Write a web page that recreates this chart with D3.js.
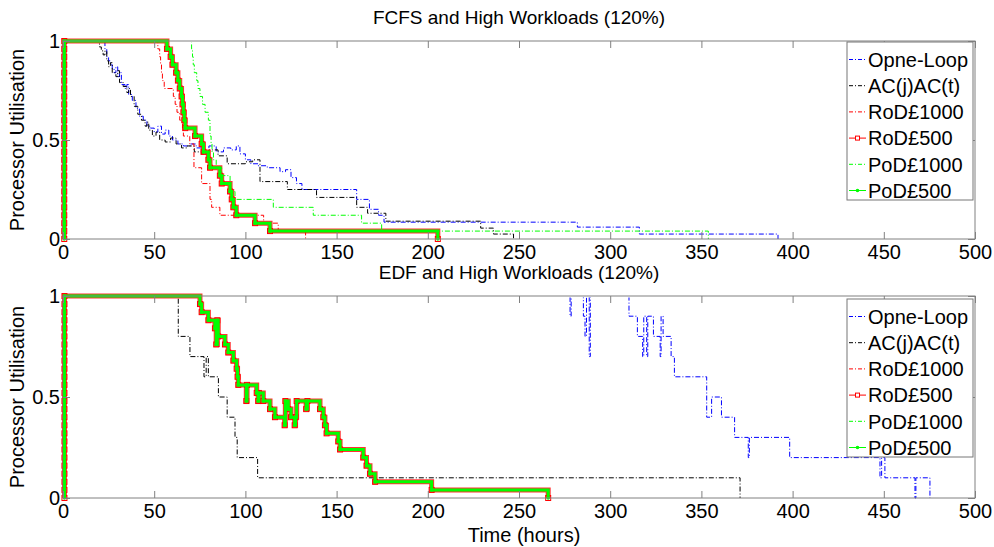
<!DOCTYPE html>
<html>
<head>
<meta charset="utf-8">
<script src="https://cdn.jsdelivr.net/npm/d3@7/dist/d3.min.js"></script>
<style>
  body { margin: 0; background: #fff; }
  text { font-family: "Liberation Sans", Arial, sans-serif; fill: #000; }
</style>
</head>
<body>
<script>
// ---- data ----
const xTicks = [0, 50, 100, 150, 200, 250, 300, 350, 400, 450, 500];
const yTicks = [0, 0.5, 1];
const seriesNames = ["Opne-Loop", "AC(j)AC(t)", "RoD£1000", "RoD£500", "PoD£1000", "PoD£500"];

// utilisation levels climbed right at t≈0 (markers on the vertical start)
const rampLevels = [0, 0.04, 0.08, 0.12, 0.16, 0.2, 0.24, 0.28, 0.32, 0.36, 0.4, 0.44, 0.48,
  0.52, 0.56, 0.6, 0.64, 0.68, 0.72, 0.76, 0.8, 0.84, 0.88, 0.92, 0.96, 1];

// FCFS panel  [time, utilisation]
const fcfsOpenLoop = [[0,0],[0.7,1],[23,0.96],[24,0.92],[25,0.9],[26,0.88],[27,0.86],[28,0.84],[29,0.87],
  [30,0.82],[31,0.84],[32,0.78],[34,0.76],[35,0.78],[36,0.73],[38,0.7],[40,0.66],[42,0.62],[44,0.6],
  [46,0.57],[48,0.56],[50,0.54],[52,0.57],[54,0.53],[56,0.55],[58,0.52],[60,0.5],[63,0.48],[66,0.47],
  [70,0.48],[73,0.46],[76,0.44],[80,0.47],[84,0.44],[88,0.46],[92,0.45],[95,0.47],[97,0.43],[100,0.4],
  [103,0.38],[107,0.37],[112,0.36],[119,0.34],[122,0.35],[125,0.31],[128,0.28],[131,0.25],[161,0.2],
  [168,0.15],[173,0.12],[176,0.085],[282,0.06],[316,0.025],[392,0]];
const fcfsAC = [[0,0],[0.7,1],[20,0.97],[21,0.95],[22,0.93],[23,0.95],[24,0.9],[25,0.87],[26,0.89],
  [27,0.84],[29,0.82],[30,0.85],[31,0.79],[33,0.77],[35,0.74],[36,0.76],[37,0.72],[39,0.67],[41,0.63],
  [43,0.6],[45,0.57],[46,0.59],[47,0.55],[49,0.52],[51,0.54],[53,0.5],[56,0.49],[59,0.51],[62,0.48],
  [65,0.46],[68,0.47],[72,0.44],[76,0.43],[80,0.45],[85,0.42],[90,0.38],[100,0.39],[104,0.4],[108,0.29],
  [123,0.25],[139,0.21],[161,0.16],[167,0.13],[177,0.09],[229,0.055],[236,0.025],[247,0]];
const fcfsRoD1000 = [[0,0],[0.7,1],[52,0.96],[53,0.92],[53.5,0.88],[54,0.84],[54.5,0.8],[55.5,0.76],
  [60.5,0.72],[61.5,0.68],[62.5,0.64],[64,0.6],[65.5,0.56],[66,0.52],[69.5,0.48],[71.8,0.36],[76,0.28],
  [80.6,0.2],[81.5,0.16],[86,0.12],[110,0.08],[118,0.04],[133,0]];
const fcfsPoD1000 = [[0,0],[0.7,1],[70.5,0.96],[71,0.92],[71.4,0.88],[72,0.84],[73.3,0.8],[74,0.76],
  [75.1,0.72],[76.5,0.68],[77.9,0.64],[79.7,0.6],[80.6,0.52],[81.2,0.48],[81.7,0.44],[82.5,0.4],
  [84,0.36],[87,0.32],[91.6,0.24],[94.3,0.2],[115.3,0.16],[137.2,0.12],[163.7,0.08],[174.7,0.04],[353.8,0]];
const fcfsRoD500 = [[57,0.96],[59,0.92],[60,0.88],[62,0.84],[63,0.8],[64,0.76],[65,0.72],[65.5,0.68],
  [66,0.64],[66.5,0.6],[67,0.56],[72.4,0.52],[76,0.48],[77,0.44],[79.7,0.4],[80.6,0.36],[86,0.32],
  [87,0.28],[91.6,0.24],[92.5,0.2],[93.4,0.16],[95,0.12],[105.3,0.08],[113.5,0.04],[205.5,0]];
const fcfsPoD500 = fcfsRoD500; // drawn on top of RoD£500, same trace

// EDF panel
const edfOpenLoop = [[0,0],[0.7,1],[278,0.9],[278.6,1],[285.3,0.9],[286.2,0.8],[287,1],[288.5,0.7],
  [289.1,1],[310.3,0.9],[314.9,0.8],[317.8,0.7],[318.4,0.9],[320,0.7],[320.6,0.9],[323.7,0.8],[327.4,0.7],
  [327.9,0.9],[329,0.8],[333.4,0.7],[335.2,0.6],[352.9,0.4],[355.6,0.5],[361,0.4],[368.2,0.3],[375.7,0.2],
  [376.3,0.3],[398.4,0.2],[447.9,0.1],[448.8,0.2],[450.6,0.1],[467.1,0],[467.6,0.1],[475.3,0]];
const edfAC = [[0,0],[0.7,1],[63.2,0.8],[69.6,0.7],[77.3,0.6],[78.5,0.7],[79.7,0.6],[85.2,0.5],
  [90,0.4],[94.3,0.3],[95.5,0.2],[106.7,0.1],[371.2,0]];
const edfRoD500 = [[75.1,0.96],[76,0.92],[79.7,0.88],[83.3,0.84],[84,0.76],[84.6,0.88],[85.1,0.8],
  [88.8,0.76],[90.6,0.72],[93.4,0.68],[95.2,0.64],[95.7,0.6],[96.1,0.56],[100.5,0.48],[100.9,0.56],
  [106.2,0.52],[107,0.48],[107.4,0.52],[109.8,0.48],[113.5,0.44],[116.2,0.4],[121.5,0.36],[121.9,0.48],
  [123.5,0.44],[125,0.4],[127,0.36],[127.5,0.4],[128.1,0.48],[133.3,0.44],[134,0.48],[140.9,0.44],
  [142.7,0.4],[143.6,0.36],[144.5,0.32],[150.9,0.28],[151.9,0.24],[164.6,0.2],[166.4,0.16],[168.3,0.12],
  [171.1,0.08],[202.1,0.04],[266,0]];
const edfPoD500 = edfRoD500;
const edfRoD1000 = edfRoD500; // hidden under the £500 traces
const edfPoD1000 = edfRoD500;

// ---- drawing ----
const W = 994, H = 547;
const FS = "20px";
const svg = d3.select("body").append("svg").attr("width", W).attr("height", H);

const x = d3.scaleLinear().domain([0, 500]).range([63, 975]);

const ramped = (pts, t) => rampLevels.map(v => [t, v]).concat(pts);

const styles = [
  { color: "#0000ff", dash: "5,2,1,2", w: 1 },
  { color: "#000000", dash: "5,2,1,2", w: 1 },
  { color: "#ff0000", dash: "5,2,1,2", w: 1 },
  { color: "#ff0000", dash: null, w: 1, marker: "square" },
  { color: "#00ff00", dash: "5,2,1,2", w: 1 },
  { color: "#00ff00", dash: null, w: 1, marker: "dot" }
];

const panels = [
  { title: "FCFS and High Workloads (120%)", top: 41, bottom: 239, legendTop: 42,
    series: [fcfsOpenLoop, fcfsAC, fcfsRoD1000, ramped(fcfsRoD500, 0.7), fcfsPoD1000, ramped(fcfsPoD500, 0.7)] },
  { title: "EDF and High Workloads (120%)", top: 296, bottom: 498, legendTop: 299,
    series: [edfOpenLoop, edfAC, ramped(edfRoD1000, 0.8), ramped(edfRoD500, 0.8), ramped(edfPoD1000, 0.8), ramped(edfPoD500, 0.8)] }
];

panels.forEach((p, pi) => {
  const y = d3.scaleLinear().domain([0, 1]).range([p.bottom, p.top]);
  const g = svg.append("g");
  const axisColor = "#808080";

  // thin traces lying on the top edge are hidden by the axes box in the original
  const clipId = "clip" + pi;
  svg.append("clipPath").attr("id", clipId).append("rect")
    .attr("x", x(0) - 5).attr("y", p.top + 1.5).attr("width", x(500) - x(0) + 10)
    .attr("height", p.bottom - p.top + 5);

  const line = d3.line().x(d => x(d[0])).y(d => y(d[1])).curve(d3.curveStepAfter);

  p.series.forEach((data, si) => {
    const s = styles[si];
    if (s.marker === "square") {
      g.append("path").attr("d", line(data)).attr("fill", "none")
        .attr("stroke", s.color).attr("stroke-width", 5).attr("stroke-opacity", 0.8);
      g.append("g").selectAll("rect").data(data).join("rect")
        .attr("x", d => x(d[0]) - 2.5).attr("y", d => y(d[1]) - 2.5)
        .attr("width", 5).attr("height", 5).attr("fill", "none")
        .attr("stroke", s.color).attr("stroke-width", 1);
    } else if (s.marker === "dot") {
      g.append("path").attr("d", line(data)).attr("fill", "none")
        .attr("stroke", s.color).attr("stroke-width", 3);
      g.append("g").selectAll("circle").data(data).join("circle")
        .attr("cx", d => x(d[0])).attr("cy", d => y(d[1])).attr("r", 1.8)
        .attr("fill", s.color);
    } else {
      g.append("path").attr("d", line(data)).attr("fill", "none")
        .attr("clip-path", `url(#${clipId})`)
        .attr("stroke", s.color).attr("stroke-width", s.w)
        .attr("stroke-dasharray", s.dash);
    }
  });

  // box
  g.append("rect").attr("x", x(0)).attr("y", p.top).attr("width", x(500) - x(0))
    .attr("height", p.bottom - p.top).attr("fill", "none").attr("stroke", axisColor);
  // the thick £500 band still shows through at the top edge
  g.append("path").attr("d", line(p.series[3].filter(d => d[1] === 1 || d[0] < 1)))
    .attr("fill", "none").attr("stroke", "#00ff00").attr("stroke-width", 2.5);

  const xb = g.append("g").attr("transform", `translate(0,${p.bottom})`)
    .call(d3.axisBottom(x).tickValues(xTicks).tickSizeInner(-7).tickSizeOuter(0).tickPadding(6));
  const xt = g.append("g").attr("transform", `translate(0,${p.top})`)
    .call(d3.axisTop(x).tickValues(xTicks).tickSizeInner(-7).tickSizeOuter(0).tickFormat(""));
  const yl = g.append("g").attr("transform", `translate(${x(0)},0)`)
    .call(d3.axisLeft(y).tickValues(yTicks).tickSizeInner(-7).tickSizeOuter(0).tickPadding(3)
      .tickFormat(d => d === 0.5 ? "0.5" : d3.format("d")(d)));
  const yr = g.append("g").attr("transform", `translate(${x(500)},0)`)
    .call(d3.axisRight(y).tickValues(yTicks).tickSizeInner(-7).tickSizeOuter(0).tickFormat(""));
  [xb, xt, yl, yr].forEach(a => {
    a.select(".domain").remove();
    a.selectAll("line").attr("stroke", axisColor);
    a.selectAll("text").style("font-size", FS).attr("fill", "#000")
      .style("font-family", '"Liberation Sans", Arial, sans-serif');
  });

  // title
  g.append("text").attr("x", (x(0) + x(500)) / 2).attr("y", p.top - 17)
    .attr("text-anchor", "middle").style("font-size", "19px").text(p.title);

  // y label
  g.append("text").attr("transform", `translate(24,${(p.top + p.bottom) / 2}) rotate(-90)`)
    .attr("text-anchor", "middle").style("font-size", FS).text("Processor Utilisation");

  // legend
  const lx = 847, lw = 126, rowH = 26.2, lh = 158;
  const leg = g.append("g");
  leg.append("rect").attr("x", lx).attr("y", p.legendTop).attr("width", lw).attr("height", lh)
    .attr("fill", "#fff").attr("stroke", "#777");
  seriesNames.forEach((name, i) => {
    const s = styles[i];
    const cy = p.legendTop + 17.5 + i * rowH;
    leg.append("line").attr("x1", lx + 2).attr("x2", lx + 19).attr("y1", cy).attr("y2", cy)
      .attr("stroke", s.color).attr("stroke-width", 1).attr("stroke-dasharray", s.dash ? "4,2,1,2" : null);
    if (s.marker === "square") {
      leg.append("rect").attr("x", lx + 8.5).attr("y", cy - 2).attr("width", 4).attr("height", 4)
        .attr("fill", "#fff").attr("stroke", s.color);
    } else if (s.marker === "dot") {
      leg.append("circle").attr("cx", lx + 10.5).attr("cy", cy).attr("r", 1.8).attr("fill", s.color);
    }
    leg.append("text").attr("x", lx + 21).attr("y", cy).attr("dy", "0.36em")
      .style("font-size", FS).text(name);
  });
});

// x label
svg.append("text").attr("x", 524).attr("y", 542)
  .attr("text-anchor", "middle").style("font-size", FS).text("Time (hours)");
</script>
</body>
</html>
